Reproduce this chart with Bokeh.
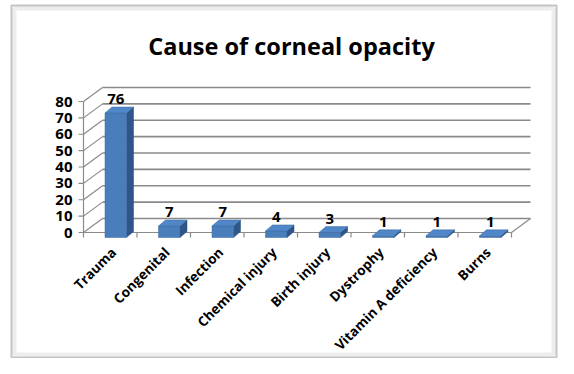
import math
from bokeh.plotting import figure
from bokeh.models import Range1d, Label, BoxAnnotation
from bokeh.core.properties import value
from bokeh.embed import file_html
from bokeh.resources import INLINE

# ---- data ----
title_text = "Cause of corneal opacity"
categories = ["Trauma", "Congenital", "Infection", "Chemical injury",
              "Birth injury", "Dystrophy", "Vitamin A deficiency", "Burns"]
counts = [76, 7, 7, 4, 3, 1, 1, 1]
y_ticks = [0, 10, 20, 30, 40, 50, 60, 70, 80]
y_tick_labels = ["0", "10", "20", "30", "40", "50", "60", "70", "80"]

# ---- layout (pixels) ----
W, H = 558, 358
PX_CAT = 53.5          # pixels per category
PX_VAL = 1.6375        # pixels per value unit
X0 = 83                # front-left corner, px from left
Y0 = 126               # value 0 at front, px from bottom

def dx(px):
    return px / PX_CAT

def dy(px):
    return px / PX_VAL

FONT = value("Open Sans")
n = len(categories)
ymax = y_ticks[-1]

p = figure(width=W, height=H, output_backend="svg", toolbar_location=None,
           x_range=Range1d(-X0 / PX_CAT, (W - X0) / PX_CAT),
           y_range=Range1d(-Y0 / PX_VAL, (H - Y0) / PX_VAL),
           min_border=0, min_border_left=0, min_border_right=0,
           min_border_top=0, min_border_bottom=0)
p.axis.visible = False
p.grid.visible = False
p.background_fill_color = "white"
p.border_fill_color = "white"
p.outline_line_color = None

# picture frame
p.add_layout(BoxAnnotation(left=14, right=553, bottom=4, top=350,
                           left_units="screen", right_units="screen",
                           top_units="screen", bottom_units="screen",
                           fill_alpha=0, line_color="#c4c4c4", line_width=4))
p.add_layout(BoxAnnotation(left=11, right=556, bottom=1, top=353,
                           left_units="screen", right_units="screen",
                           top_units="screen", bottom_units="screen",
                           fill_alpha=0, line_color="#3a3a3a", line_width=2))

WALL_DX, WALL_DY = dx(19), dy(14)
GRID = "#8a8a8a"

# back wall gridlines
p.segment(x0=[WALL_DX] * len(y_ticks), y0=[t + WALL_DY for t in y_ticks],
          x1=[n + WALL_DX] * len(y_ticks), y1=[t + WALL_DY for t in y_ticks],
          line_color=GRID, line_width=1.7)
# left wall diagonals
p.segment(x0=[0] * len(y_ticks), y0=y_ticks,
          x1=[WALL_DX] * len(y_ticks), y1=[t + WALL_DY for t in y_ticks],
          line_color=GRID, line_width=1.2)
# floor front edge & right diagonal
p.segment(x0=[0, n], y0=[0, 0], x1=[n, n + WALL_DX], y1=[0, WALL_DY],
          line_color=GRID, line_width=1.2)
# front vertical axis
p.segment(x0=[0], y0=[0], x1=[0], y1=[ymax], line_color=GRID, line_width=1.2)
# y ticks
p.segment(x0=[dx(-5)] * len(y_ticks), y0=y_ticks, x1=[0] * len(y_ticks), y1=y_ticks,
          line_color=GRID, line_width=1.2)
# category ticks
p.segment(x0=list(range(n + 1)), y0=[0] * (n + 1), x1=list(range(n + 1)),
          y1=[dy(-5)] * (n + 1), line_color=GRID, line_width=1.2)

# y tick labels
p.text(x=[dx(-11)] * len(y_ticks), y=y_ticks, text=y_tick_labels,
       text_font=FONT, text_font_style="bold", text_font_size="15px",
       text_align="right", text_baseline="middle", text_color="black")

# ---- bars ----
centers = [i + 0.5 for i in range(n)]
shift = dx(5.5)
hw = dx(10.75)
b0 = dy(-5)
bx, by = dx(7), dy(6)

fl = [c + shift - hw for c in centers]
fr = [c + shift + hw for c in centers]
tops = [b0 + v for v in counts]

# side faces
p.patches(xs=[[r, r + bx, r + bx, r] for r in fr],
          ys=[[b0, b0 + by, t + by, t] for t in tops],
          fill_color="#2E5689", line_color="#27497a", line_width=0.5)
# front faces
p.quad(left=fl, right=fr, bottom=[b0] * n, top=tops,
       fill_color="#4A7EBB", line_color="#3d6ba3", line_width=0.5)
# top faces
p.patches(xs=[[l, r, r + bx, l + bx] for l, r in zip(fl, fr)],
          ys=[[t, t, t + by, t + by] for t in tops],
          fill_color="#5087C8", line_color="#3d6ba3", line_width=0.5)

# data labels
p.text(x=[c + shift for c in centers], y=[t + dy(14) for t in tops],
       text=[str(v) for v in counts],
       text_font=FONT, text_font_style="bold", text_font_size="15px",
       text_align="center", text_baseline="middle", text_color="black")

# category labels
p.text(x=[c + dx(-3) for c in centers], y=[dy(-11)] * n, text=categories,
       angle=math.pi / 4, text_font=FONT, text_font_style="bold",
       text_font_size="13.5px", text_align="right", text_baseline="top",
       text_color="black")

# title
p.add_layout(Label(x=291, y=H - 45, x_units="screen", y_units="screen",
                   text=title_text, text_font="Open Sans", text_font_style="bold",
                   text_font_size="23.5px", text_align="center",
                   text_baseline="middle", text_color="black"))

open("out.html", "w").write(file_html(p, INLINE))
